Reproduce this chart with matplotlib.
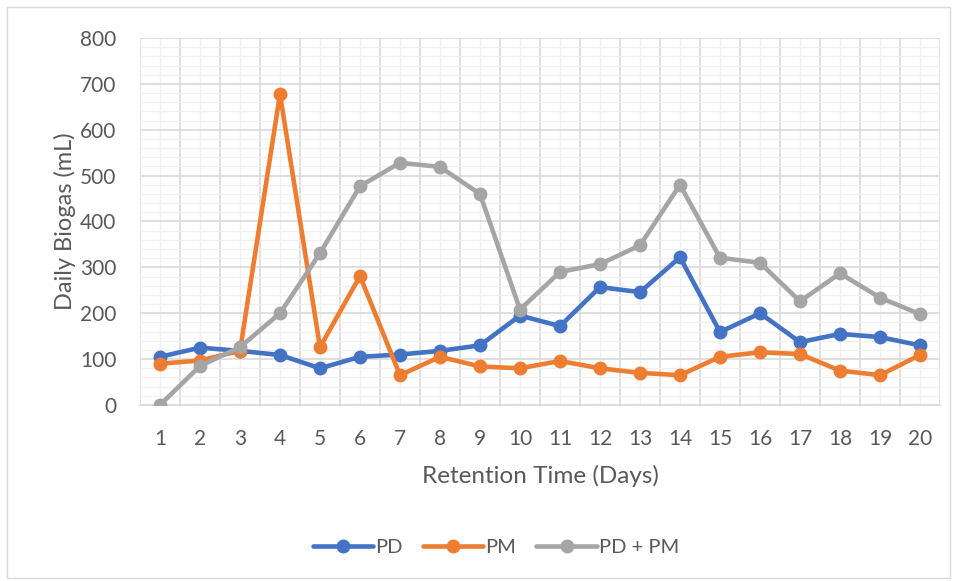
import matplotlib
matplotlib.use("Agg")
import matplotlib.pyplot as plt
from matplotlib.patches import Rectangle
import numpy as np

days = list(range(1, 21))
pd_vals = [105, 125, 118, 109, 80, 105, 110, 118, 130, 195, 172, 257, 246, 322, 159, 200, 137, 155, 148, 130]
pm_vals = [90, 97, 118, 678, 126, 281, 65, 105, 84, 80, 96, 80, 70, 65, 105, 115, 111, 75, 65, 109]
pdpm_vals = [0, 85, 126, 200, 331, 477, 528, 519, 460, 208, 290, 307, 348, 480, 321, 310, 226, 287, 234, 198]
series_names = ["PD", "PM", "PD + PM"]
colors = ["#4472C4", "#ED7D31", "#A5A5A5"]

plt.rcParams['font.family'] = ['Lato', 'DejaVu Sans']
txt = "#595959"

fig = plt.figure(figsize=(9.58, 5.81), dpi=100)
ax = fig.add_axes([140/958, 1-405/581, 800/958, 367/581])

for vals, name, c in zip([pd_vals, pm_vals, pdpm_vals], series_names, colors):
    ax.plot(days, vals, color=c, lw=3.3, marker='o', ms=9, label=name,
            solid_capstyle='round', solid_joinstyle='round', zorder=3)

ax.set_xlim(0.5, 20.5)
ax.set_ylim(0, 800)
ax.set_yticks(np.arange(0, 801, 100))
ax.set_yticks(np.arange(0, 801, 20), minor=True)
ax.set_xticks(days)
ax.set_xticks(np.arange(0.5, 21, 1), minor=True)

ax.grid(which='major', axis='y', color='#d9d9d9', lw=1.2, zorder=0)
ax.grid(which='minor', axis='y', color='#f0f0f0', lw=1.0, zorder=0)
ax.grid(which='minor', axis='x', color='#d9d9d9', lw=1.2, zorder=0)
ax.grid(which='major', axis='x', color='#f0f0f0', lw=1.0, zorder=0)
ax.set_axisbelow(True)

ax.tick_params(which='both', length=0, labelsize=15, colors=txt)
ax.tick_params(axis='x', pad=17)
ax.tick_params(axis='y', pad=17)
for s in ['top', 'right', 'left']:
    ax.spines[s].set_visible(False)
ax.spines['bottom'].set_color('#d9d9d9')
ax.spines['bottom'].set_linewidth(1.2)

ax.set_xlabel("Retention Time (Days)", fontsize=17.5, color=txt, labelpad=12)
ax.set_ylabel("Daily Biogas (mL)", fontsize=17, color=txt, labelpad=3)

leg = fig.legend(loc='center', bbox_to_anchor=(496/958, 1-547/581), ncol=3,
                 frameon=False, fontsize=14.5, handlelength=3.0, columnspacing=1.0,
                 handletextpad=0.1, labelcolor=txt)

fig.patches.append(Rectangle((7/958, 3/581), 943/958, 571/581, transform=fig.transFigure,
                             fill=False, edgecolor='#d9d9d9', lw=1.0))

fig.savefig("out.png", dpi=100)
